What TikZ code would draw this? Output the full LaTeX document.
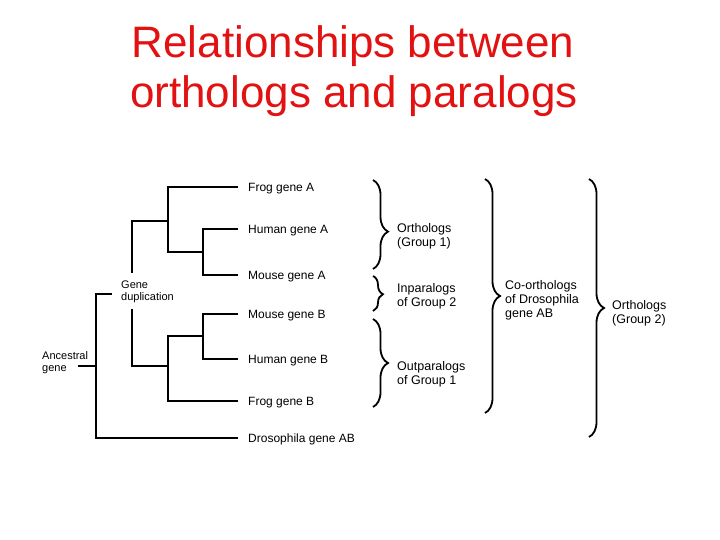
\documentclass[tikz,border=0pt]{standalone}
\usepackage{fontspec}
\setmainfont{Liberation Sans}
\usetikzlibrary{decorations.pathreplacing}
\definecolor{titlered}{RGB}{226,18,18}
\begin{document}
\begin{tikzpicture}[x=1pt,y=-1pt,
  tree/.style={line width=2pt, line join=miter},
  leaf/.style={anchor=west, inner sep=0pt, font=\fontsize{12}{14}\selectfont, text height=8.6pt, text depth=0pt},
  note/.style={anchor=west, inner sep=0pt, align=left, font=\fontsize{12.5}{14.2}\selectfont},
  small/.style={anchor=west, inner sep=0pt, align=left, font=\fontsize{11}{12}\selectfont},
  bigbrace/.style={line width=1.8pt, decorate, decoration={brace, amplitude=15pt, aspect=#1}},
  smallbrace/.style={line width=1.8pt, decorate, decoration={brace, amplitude=10pt, aspect=#1}},
  titletext/.style={anchor=base, inner sep=0pt, text=titlered, font=\fontsize{44}{50}\selectfont}
]
\useasboundingbox (0,0) rectangle (720,540);

% title
\node[titletext] (title1) at (353,58) {Relationships between};
\node[titletext] (title2) at (354,108) {orthologs and paralogs};

% leaves
\node[leaf] (FA) at (248,187) {Frog gene A};
\node[leaf] (HA) at (248,229) {Human gene A};
\node[leaf] (MA) at (248,275) {Mouse gene A};
\node[leaf] (MB) at (248,314) {Mouse gene B};
\node[leaf] (HB) at (248,359) {Human gene B};
\node[leaf] (FB) at (248,401) {Frog gene B};
\node[leaf] (DR) at (248,438) {Drosophila gene AB};

% internal nodes
\coordinate (n1) at (203,252);
\coordinate (n2) at (168,221);
\coordinate (n3) at (203,336);
\coordinate (n4) at (168,366);
\coordinate (root) at (96,366);
\coordinate (gdtop) at (132,273);
\coordinate (gdbot) at (132,309);
\coordinate (gdstub) at (112,294);
\coordinate (anc) at (78,366);

\node[small] (GD) at (121,292) {Gene\\duplication};
\node[small] (AG) at (42,363) {Ancestral\\gene};

% tree edges
\draw[tree] (n1) |- ([xshift=-10pt]HA.west);
\draw[tree] (n1) |- ([xshift=-10pt]MA.west);
\draw[tree] (n2) |- ([xshift=-10pt]FA.west);
\draw[tree] (n2) |- (n1);
\draw[tree] (n3) |- ([xshift=-10pt]MB.west);
\draw[tree] (n3) |- ([xshift=-10pt]HB.west);
\draw[tree] (n4) |- (n3);
\draw[tree] (n4) |- ([xshift=-10pt]FB.west);
\draw[tree] (gdtop) |- (n2);
\draw[tree] (gdbot) |- (n4);
\draw[tree] (root) |- (gdstub);
\draw[tree] (root) |- ([xshift=-10pt]DR.west);
\draw[tree] (anc) -- (root);

% braces
\draw[bigbrace=0.58] (373,180) -- (373,269);
\draw[smallbrace=0.52] (373,276) -- (373,311);
\draw[bigbrace=0.5] (373,319) -- (373,407);
\draw[bigbrace=0.5] (485,179) -- (485,413);
\draw[bigbrace=0.5] (589,179) -- (589,437);

% brace labels
\node[note] (L1) at (397,236) {Orthologs\\(Group 1)};
\node[note] (L2) at (397,296) {Inparalogs\\of Group 2};
\node[note] (L3) at (397,374) {Outparalogs\\of Group 1};
\node[note] (L4) at (505,300) {Co-orthologs\\of Drosophila\\gene AB};
\node[note] (L5) at (612,313) {Orthologs\\(Group 2)};
\end{tikzpicture}
\end{document}
